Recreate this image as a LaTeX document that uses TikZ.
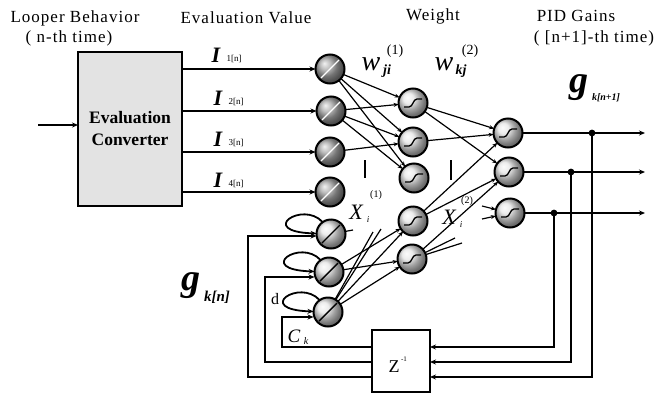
\documentclass[tikz,border=0pt]{standalone}
\usepackage{fontspec}
\setmainfont{Liberation Serif}
\newfontfamily\ttlfont[LetterSpace=6]{Liberation Serif}
\usetikzlibrary{arrows.meta}
\begin{document}
\begin{tikzpicture}[x=1pt,y=-1pt,
  every node/.style={inner sep=0pt,outer sep=0pt},
  ttl/.style={font=\ttlfont\fontsize{17}{17}\selectfont},
  neuron/.style={circle,draw,line width=2pt,minimum size=29pt},
  inpn/.style={neuron,ball color=gray!70,path picture={\draw[white,line width=1.4pt,shift={(path picture bounding box.center)}] (-9pt,-9pt)--(9pt,9pt);}},
  ctxn/.style={neuron,ball color=gray!20,path picture={\draw[black,line width=1.4pt,shift={(path picture bounding box.center)}] (-9pt,-9pt)--(9pt,9pt);}},
  sign/.style={neuron,ball color=gray!20,path picture={\draw[black,line width=1.3pt,shift={(path picture bounding box.center)}] (-9pt,-4pt)--(-4pt,-4pt) .. controls (0pt,-4pt) and (0pt,4pt) .. (4pt,4pt)--(9pt,4pt);}},
  arrowln/.style={-{Stealth[length=6pt,width=5pt]}},
  conn/.style={line width=1.2pt,-{Stealth[length=5pt,width=4pt]}},
  thk/.style={line width=2.3pt},
  bigI/.style={font=\fontsize{22}{22}\selectfont\bfseries\itshape},
  subI/.style={font=\fontsize{9}{9}\selectfont},
  wfont/.style={font=\fontsize{28}{28}\selectfont\itshape},
  wsub/.style={font=\fontsize{14}{14}\selectfont\bfseries\itshape},
  wsup/.style={font=\fontsize{14}{14}\selectfont},
  xfont/.style={font=\fontsize{22}{22}\selectfont\itshape},
  xsub/.style={font=\fontsize{9}{9}\selectfont\itshape},
  xsup/.style={font=\fontsize{10}{10}\selectfont},
  gfont/.style={font=\fontsize{38}{38}\selectfont\bfseries\itshape},
]
\useasboundingbox (0,0) rectangle (669,394);
\fill[white] (0,0) rectangle (669,394);

% titles
\node[ttl] (t1) at (75,18) {Looper Behavior};
\node[ttl] (t2) at (69,38) {( n-th time)};
\node[ttl] (t3) at (246,18) {Evaluation Value};
\node[ttl] (t4) at (433,16) {Weight};
\node[ttl] (t5) at (576,16) {PID Gains};
\node[ttl] (t6) at (594,38) {( [n+1]-th time)};

% converter box
\node[draw,line width=2pt,fill=gray!22,minimum width=104pt,minimum height=154pt,align=center,font=\fontsize{17.5}{22}\selectfont\bfseries] (ec) at (130,129) {Evaluation\\Converter};
\coordinate (inA) at (38,125);
\draw[thk,arrowln] (inA) -- (ec.west |- inA);

% neurons
\node[inpn] (i1) at (330,69) {};
\node[inpn] (i2) at (331,111) {};
\node[inpn] (i3) at (330,152) {};
\node[inpn] (i4) at (330,192) {};
\node[ctxn] (c1) at (331,234) {};
\node[ctxn] (c2) at (329,272) {};
\node[ctxn] (c3) at (328,312) {};
\node[sign] (h1) at (413,103) {};
\node[sign] (h2) at (413,142) {};
\node[sign] (h3) at (414,178) {};
\node[sign] (h4) at (413,221) {};
\node[sign] (h5) at (412,259) {};
\node[sign] (o1) at (508,133) {};
\node[sign] (o2) at (509,172) {};
\node[sign] (o3) at (510,213) {};

% evaluation value lines
\foreach \n in {i1,i2,i3,i4} \draw[thk,arrowln] (ec.east |- \n) -- (\n);

% I labels
\node[bigI] (I1) at (216,55) {I}; \node[subI] (I1s) at (234,59) {1[n]};
\node[bigI] (I2) at (218,98) {I}; \node[subI] (I2s) at (236,102) {2[n]};
\node[bigI] (I3) at (218,139) {I}; \node[subI] (I3s) at (236,143) {3[n]};
\node[bigI] (I4) at (218,180) {I}; \node[subI] (I4s) at (236,184) {4[n]};

% network connections
\foreach \a/\b in {i1/h1,i1/h2,i1/h3,i2/h1,i2/h2,i2/h3,i3/h2,c2/h4,c2/h5,c3/h4,c3/h5,h1/o1,h1/o2,h2/o1,h4/o1,h4/o2,h5/o2}
  \draw[conn] (\a) -- (\b);
\coordinate (s1) at (353,230);
\coordinate (s2) at (373,232);
\coordinate (s3) at (381,229);
\coordinate (s4) at (482,206);
\coordinate (s5) at (482,219);
\coordinate (s6) at (455,238);
\coordinate (s7) at (462,243);
\draw[line width=1.2pt] (c1) -- (s1);
\draw[line width=1.2pt] (c3) -- (s2);
\draw[line width=1.2pt] (c3) -- (s3);
\draw[conn] (s4) -- (o3);
\draw[conn] (s5) -- (o3);
\draw[line width=1.2pt] (h5) -- (s6);
\draw[line width=1.2pt] (h5) -- (s7);

% self loops of context units
\foreach \n in {c1,c2,c3}
  \draw[line width=1.8pt,arrowln] (\n.125) .. controls +(-20,-22) and +(-60,-2) .. (\n.178);

% weight labels
\node[wfont] (w1) at (371,64) {w}; \node[wsub] (w1s) at (387,71) {ji}; \node[wsup] (w1p) at (395,51) {(1)};
\node[wfont] (w2) at (444,64) {w}; \node[wsub] (w2s) at (461,71) {kj}; \node[wsup] (w2p) at (470,51) {(2)};
\draw[line width=1.5pt] (365,160) -- (365,178);
\draw[line width=1.5pt] (451,160) -- (451,180);
\node[xfont] (x1) at (356,212) {X}; \node[xsub] (x1s) at (368,220) {i}; \node[xsup] (x1p) at (376,195) {(1)};
\node[xfont] (x2) at (449,217) {X}; \node[xsub] (x2s) at (461,225) {i}; \node[xsup] (x2p) at (467,201) {(2)};

% outputs
\coordinate (e1) at (645,133);
\coordinate (e2) at (645,172);
\coordinate (e3) at (645,213);
\draw[thk,arrowln] (o1) -- (e1);
\draw[thk,arrowln] (o2) -- (e2);
\draw[thk,arrowln] (o3) -- (e3);
\coordinate (j1) at (592,133);
\coordinate (j2) at (571,172);
\coordinate (j3) at (554,213);
\fill (j1) circle (3.4pt);
\fill (j2) circle (3.4pt);
\fill (j3) circle (3.4pt);
\node[gfont] (g1) at (579,88) {g}; \node[font=\fontsize{10}{10}\selectfont\bfseries\itshape] (g1s) at (606,98) {k[n+1]};
\node[gfont] (g2) at (191,286) {g}; \node[font=\fontsize{15}{15}\selectfont\bfseries\itshape] (g2s) at (217,297) {k[n]};

% delay box
\node[draw,line width=1.5pt,minimum width=58pt,minimum height=62pt] (zb) at (401,361) {};
\node[font=\fontsize{18}{18}\selectfont] (zt) at (394,367) {Z}; \node[font=\fontsize{7}{7}\selectfont] (zs) at (404,359) {-1};
\coordinate (zr1) at (430,347);
\coordinate (zr2) at (430,362);
\coordinate (zr3) at (430,377);
\draw[thk,arrowln] (j3) |- (zr1);
\draw[thk,arrowln] (j2) |- (zr2);
\draw[thk,arrowln] (j1) |- (zr3);
\coordinate (zl1) at (372,347);
\coordinate (zl2) at (372,362);
\coordinate (zl3) at (372,377);
\coordinate (k1) at (282,317);
\coordinate (k2) at (265,277);
\coordinate (k3) at (248,236);
\draw[thk,arrowln] (zl1) -| (k1) -- (k1 -| c3.west);
\draw[thk,arrowln] (zl2) -| (k2) -- (k2 -| c2.west);
\draw[thk,arrowln] (zl3) -| (k3) -- (k3 -| c1.west);
\node[font=\fontsize{16}{16}\selectfont] (dl) at (275,299) {d};
\node[font=\fontsize{19}{19}\selectfont\itshape] (ck) at (294,336) {C}; \node[font=\fontsize{10}{10}\selectfont\itshape] (cks) at (306,341) {k};
\end{tikzpicture}
\end{document}
